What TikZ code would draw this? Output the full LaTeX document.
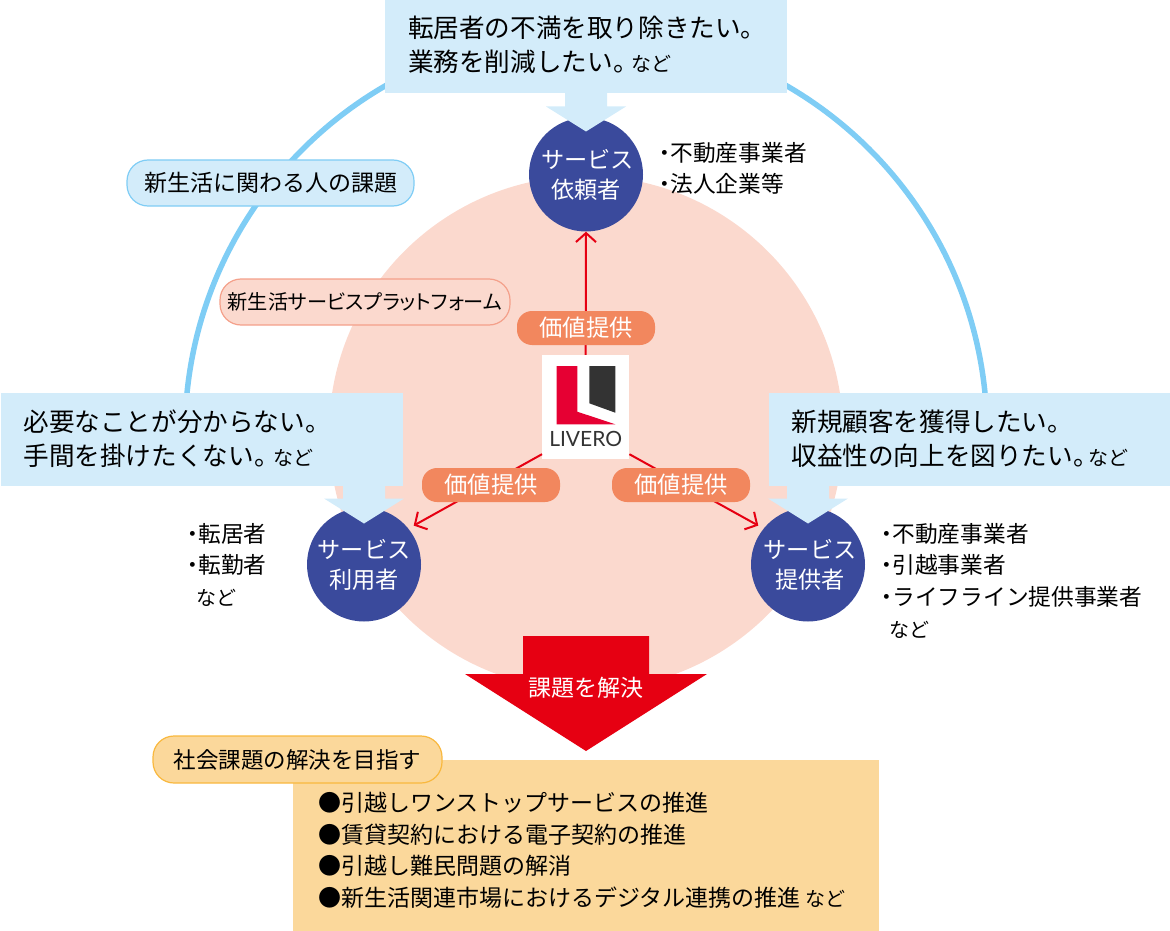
\documentclass[tikz,border=0pt]{standalone}
\usepackage{fontspec}
\setmainfont{Noto Sans CJK JP}
\newfontfamily\jpprop[RawFeature=+palt]{Noto Sans CJK JP}
\newfontfamily\logofont{Lato}
\usepackage{tikz}
\usetikzlibrary{arrows.meta,positioning}

\definecolor{ringblue}{HTML}{7FCDF5}
\definecolor{paleblue}{HTML}{D3ECFA}
\definecolor{palepink}{HTML}{FBD9CE}
\definecolor{pinkline}{HTML}{F4A08A}
\definecolor{valorange}{HTML}{F2875E}
\definecolor{navy}{HTML}{3A4A9C}
\definecolor{livered}{HTML}{E60033}
\definecolor{arrowred}{HTML}{E60012}
\definecolor{logogrey}{HTML}{333333}
\definecolor{paleorange}{HTML}{FBD89B}
\definecolor{orangeline}{HTML}{F9B83E}

\newcommand{\fsz}[2]{\fontsize{#1}{#2}\selectfont}
\newcommand{\bul}{{\jpprop ・}}
\newcommand{\etc}[1]{{\jpprop 。}\kern#1pt{\fsz{20}{34}など}}

\tikzset{
  rolecircle/.style={circle, fill=navy, text=white, minimum size=114pt, inner sep=0pt,
    align=center, font=\fsz{23.2}{30}},
  valuepill/.style={rounded corners=15pt, fill=valorange, text=white, minimum width=138pt,
    minimum height=34pt, inner sep=0pt, font=\fsz{23.3}{26}},
  callout/.style={fill=paleblue, text width=356pt, inner xsep=23pt, inner ysep=0pt,
    minimum height=93pt, align=left, font=\fsz{25.6}{34}},
  tagpill/.style={rounded corners=21pt, line width=1.2pt, minimum height=46pt, inner sep=0pt},
  sidelist/.style={anchor=north west, inner sep=0pt, align=left, font=\fsz{22.7}{31.7}},
  valarrow/.style={draw=arrowred, line width=2pt, -{Straight Barb[length=9pt,width=20pt]}}
}

\begin{document}
\begin{tikzpicture}[x=1pt, y=1pt]

\def \radius {401pt}
\def \margin {5} % where the ring goes under the side boxes, in angles

\useasboundingbox (0,-931) rectangle (1170,0);

% platform circle and ring
\fill[palepink] (586,-433) circle (257pt);
\begin{scope}[shift={(586,-433)}]
  \draw[ringblue, line width=5.5pt] (\margin:\radius) arc (\margin:{180-\margin}:\radius);
\end{scope}

% the three roles
\node[rolecircle] (client) at (586,-174.5) {\hspace*{3pt}サービス\\依頼者};
\node[rolecircle] (user) at (364,-564.5) {サービス\\利用者};
\node[rolecircle] (provider) at (808,-564.5) {\hspace*{4pt}サービス\\\hspace*{4pt}提供者};

% logo
\node[fill=white, minimum width=87pt, minimum height=104pt, inner sep=0pt] (logo) at (585.7,-407) {};
\fill[livered] (556.7,-366) -- (577.3,-366) -- (577.3,-411.7) -- (615.3,-424.3) -- (556.7,-424.3) -- cycle;
\fill[logogrey] (589.3,-366) -- (615.3,-366) -- (615.3,-412.7) -- (589.3,-403.3) -- cycle;
\node[text=logogrey, inner sep=0pt, font=\logofont\fontsize{21}{22}\selectfont] (logoname) at (585.7,-439) {LIVERO};

% value arrows
\draw[valarrow] (logo.north) -- (client.south);
\draw[valarrow, shorten >=6pt] (logo.south west) ++(0,5) -- (user.39);
\draw[valarrow, shorten >=6pt] (logo.south east) ++(0,5) -- (provider.141);

\node[valuepill] (valtop) at (586,-328) {価値提供};
\node[valuepill] (valleft) at (491,-485) {価値提供};
\node[valuepill] (valright) at (681,-485) {価値提供};

% block arrows from the callouts
\foreach \cx/\ty in {586/92,364/484,808/484}
{
  \fill[paleblue] (\cx-21,-\ty) -- (\cx+21,-\ty) -- (\cx+21,-\ty-14.5) -- (\cx+40,-\ty-14.5)
    -- (\cx,-\ty-39.5) -- (\cx-40,-\ty-14.5) -- (\cx-21,-\ty-14.5) -- (\cx-21,-\ty) -- cycle;
}

% callouts
\node[callout, minimum height=97pt] (askclient) at (586,-44.5) {転居者の不満を取り除きたい。\\業務を削減したい\etc{6}};
\node[callout] (askuser) at (201.5,-439) {必要なことが分からない。\\手間を掛けたくない\etc{7}};
\node[callout] (askprovider) at (969.5,-439) {新規顧客を獲得したい。\\収益性の向上を図りたい\etc{3}};

% side lists
\node[sidelist] (listclient) at (659,-142) {\bul 不動産事業者\\\bul 法人企業等};
\node[sidelist] (listuser) at (187,-523) {\bul 転居者\\\bul 転勤者\\\hspace*{9pt}{\fsz{20}{31.7}など}};
\node[sidelist] (listprovider) at (881,-523) {\bul 不動産事業者\\\bul 引越事業者\\\bul ライフライン提供事業者\\\hspace*{8pt}{\fsz{20}{31.7}など}};

% tags
\node[tagpill, draw=ringblue, fill=paleblue, minimum width=287pt, font=\fsz{23}{26}] (tagissue) at (270.5,-183) {新生活に関わる人の課題\hspace{3pt}};
\node[tagpill, draw=pinkline, fill=palepink, minimum width=290pt, font=\jpprop\fsz{20.2}{26}] (tagplatform) at (365,-302) {新生活サービスプラットフォーム};

% solving arrow
\fill[arrowred] (523,-636) -- (649,-636) -- (649,-674) -- (707,-674) -- (586,-751) -- (465,-674) -- (523,-674) -- cycle;
\node[text=white, inner sep=0pt, font=\fsz{23}{26}] (solve) at (586,-687.5) {課題を解決};

% goal box
\fill[paleorange] (293,-760) rectangle (879,-931);
\node[anchor=north west, inner sep=0pt, align=left, font=\fsz{23}{31.5}] (goals) at (318,-792)
  {●引越しワンストップサービスの推進\\●賃貸契約における電子契約の推進\\●引越し難民問題の解消\\●新生活関連市場におけるデジタル連携の推進 {\fsz{20}{31.5}など}};
\node[tagpill, draw=orangeline, fill=paleorange, minimum width=289pt, minimum height=47pt, font=\fsz{22.5}{26}] (taggoal) at (297.5,-759.5) {社会課題の解決を目指す\hspace{15pt}};

\end{tikzpicture}
\end{document}
